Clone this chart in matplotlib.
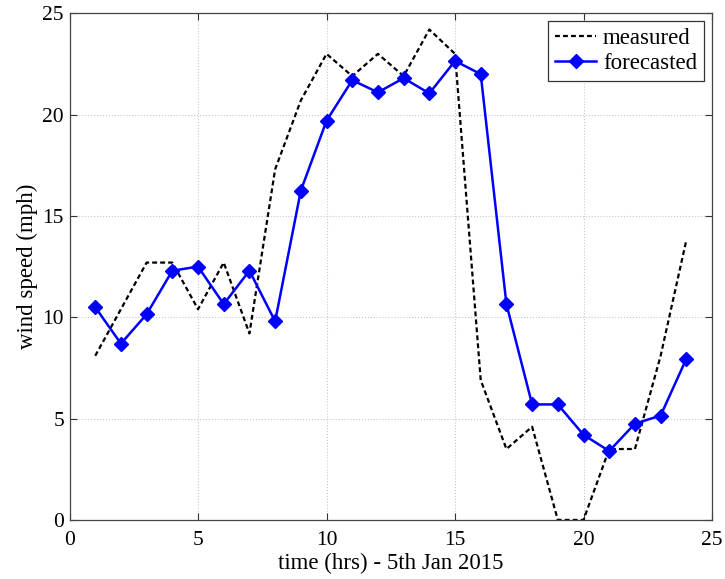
import matplotlib
matplotlib.use("Agg")
import matplotlib.pyplot as plt

hours = list(range(1, 25))
measured = [8.1, 10.4, 12.7, 12.7, 10.4, 12.7, 9.2, 17.3, 20.7, 23.0, 21.9, 23.0,
            21.9, 24.2, 23.0, 6.9, 3.5, 4.6, 0.0, 0.0, 3.5, 3.5, 8.1, 13.8]
forecasted = [10.5, 8.7, 10.15, 12.3, 12.5, 10.65, 12.3, 9.8, 16.25, 19.7, 21.7, 21.1,
              21.8, 21.05, 22.65, 22.0, 10.65, 5.7, 5.7, 4.2, 3.4, 4.75, 5.15, 7.95]
xticks = [0, 5, 10, 15, 20, 25]
yticks = [0, 5, 10, 15, 20, 25]

plt.rcParams['font.family'] = ['Liberation Serif', 'DejaVu Serif']
fig = plt.figure(figsize=(7.25, 5.79), dpi=100)
ax = fig.add_axes([0.0959, 0.102, 0.8862, 0.875])

ax.plot(hours, measured, color='black', linestyle=(0, (2.2, 1.4)), linewidth=1.6, label='measured')
ax.plot(hours, forecasted, color='#0000ff', linestyle='-', linewidth=1.8, marker='D',
        markersize=6.8, label='forecasted')

ax.set_xlim(0, 25)
ax.set_ylim(0, 25)
ax.set_xticks(xticks)
ax.set_yticks(yticks)
ax.tick_params(direction='in', top=True, right=True, labelsize=15.5, length=5, width=0.8,
               colors='#333333', labelcolor='black')
ax.tick_params(axis='x', pad=8)
ax.tick_params(axis='y', pad=4)
ax.grid(True, linestyle=':', color='#c8c8c8', linewidth=0.8)
for s in ax.spines.values():
    s.set_color('#444444')
    s.set_linewidth(0.9)

ax.set_xlabel('time (hrs) - 5th Jan 2015', fontsize=16.5, labelpad=2)
ax.set_ylabel('wind speed (mph)', fontsize=16.5, labelpad=3)

leg = ax.legend(loc='upper right', fontsize=16.5, fancybox=False, framealpha=1, edgecolor='#333333',
                borderpad=0.3, handlelength=1.8, handletextpad=0.3, labelspacing=0.15,
                borderaxespad=0.35)
leg.get_frame().set_linewidth(0.9)

fig.savefig('out.png', dpi=100)
